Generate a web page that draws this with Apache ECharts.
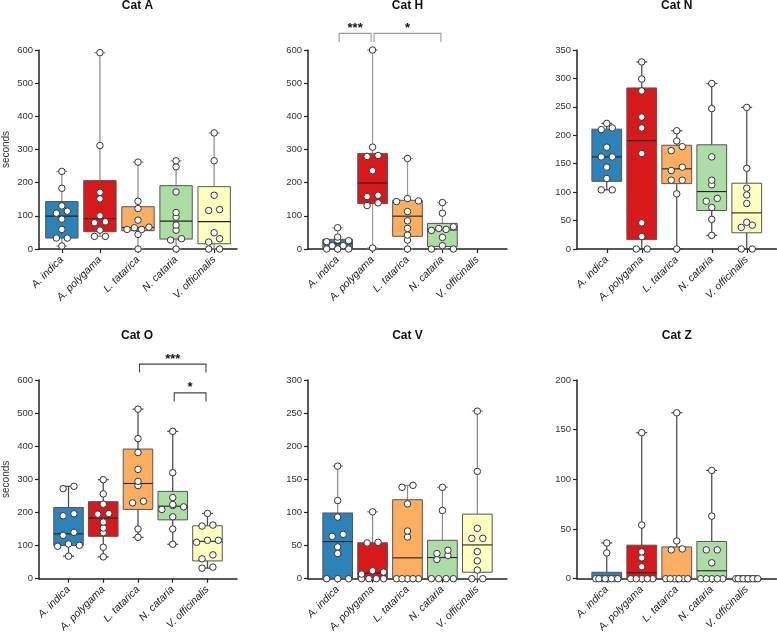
<!DOCTYPE html>
<html><head><meta charset="utf-8">
<script src="https://cdn.jsdelivr.net/npm/echarts@6/dist/echarts.min.js"></script>
<style>html,body{margin:0;padding:0;background:#fff}#c{width:777px;height:635px}</style>
</head><body><div id="c"></div>
<script>
// ---------------- data ----------------
const categories = ['A. indica', 'A. polygama', 'L. tatarica', 'N. cataria', 'V. officinalis'];
const panelTitles = ['Cat A', 'Cat H', 'Cat N', 'Cat O', 'Cat V', 'Cat Z'];
const yMaxes = [600, 600, 350, 600, 300, 200];
const yIntervals = [100, 100, 50, 100, 50, 50];

const catA = [
  [234, 183, 130, 114, 108, 90, 59, 33, 33, 9],
  [592, 312, 171, 151, 100, 82, 79, 57, 38, 38],
  [262, 144, 122, 87, 66, 64, 59, 59, 44, 0],
  [266, 248, 172, 110, 96, 72, 57, 31, 27, 0],
  [350, 266, 162, 119, 116, 49, 31, 21, 0, 0]
];
const catH = [
  [64, 36, 27, 25, 22, 10, 10, 0, 0, 0],
  [600, 307, 282, 279, 236, 162, 158, 139, 131, 3],
  [273, 152, 145, 143, 113, 85, 62, 42, 27, 0],
  [140, 108, 67, 62, 59, 56, 35, 10, 0, 0],
  []
];
const catN = [
  [221, 213, 210, 179, 162, 162, 144, 124, 104, 104],
  [329, 299, 278, 232, 213, 168, 46, 22, 0, 0],
  [208, 190, 180, 173, 144, 138, 121, 121, 97, 0],
  [291, 247, 162, 121, 113, 89, 84, 73, 52, 24],
  [249, 142, 107, 95, 80, 47, 42, 38, 0, 0]
];
const catO = [
  [279, 272, 196, 190, 140, 131, 105, 101, 98, 68],
  [299, 256, 225, 197, 195, 171, 153, 139, 95, 66],
  [512, 423, 381, 330, 294, 281, 234, 229, 150, 125],
  [445, 320, 245, 224, 221, 217, 209, 187, 150, 104],
  [197, 162, 159, 116, 116, 110, 72, 60, 35, 32]
];
const catV = [
  [170, 118, 93, 67, 64, 48, 38, 0, 0, 0],
  [101, 55, 54, 12, 10, 7, 0, 0, 0, 0],
  [141, 138, 113, 72, 63, 0, 0, 0, 0, 0],
  [138, 103, 43, 38, 35, 29, 0, 0, 0, 0],
  [253, 162, 76, 61, 61, 41, 27, 13, 0, 0]
];
const catZ = [
  [36, 26, 0, 0, 0, 0, 0, 0, 0, 0],
  [147, 54, 27, 21, 12, 0, 0, 0, 0, 0],
  [167, 38, 30, 29, 0, 0, 0, 0, 0, 0],
  [109, 63, 29, 29, 16, 0, 0, 0, 0, 0],
  [0, 0, 0, 0, 0, 0, 0, 0, 0, 0]
];
// significance brackets: [fromCategory, toCategory, level (seconds), label]
const sigH = [[0, 1, 650, '***'], [1, 3, 650, '*']];
const sigO = [[2, 4, 648, '***'], [3, 4, 561, '*']];

// ---------------- styles / layout ----------------
const FONT = 'Liberation Sans, Arial, Helvetica, sans-serif';
const fills = ['#2b83ba', '#d7191c', '#fdae61', '#abdda4', '#ffffbf'];
const panels = [
  { data: catA, grid: { left: 38, top: 50, width: 199, height: 199 }, xr: [-0.6, 4.6], yName: 'seconds', whisker: '#8a8a8a', sig: null },
  { data: catH, grid: { left: 308, top: 50, width: 199, height: 199 }, xr: [-0.85, 4.85], yName: '', whisker: '#999', sig: sigH, sigColor: '#999' },
  { data: catN, grid: { left: 577, top: 50, width: 199.5, height: 199 }, xr: [-0.85, 4.85], yName: '', whisker: '#444', sig: null },
  { data: catO, grid: { left: 37, top: 380, width: 200, height: 199 }, xr: [-0.85, 4.85], yName: 'seconds', whisker: '#444', sig: sigO, sigColor: '#444' },
  { data: catV, grid: { left: 308, top: 380, width: 199, height: 199 }, xr: [-0.85, 4.85], yName: '', whisker: '#8a8a8a', sig: null },
  { data: catZ, grid: { left: 577, top: 380, width: 199.5, height: 199 }, xr: [-0.85, 4.85], yName: '', whisker: '#444', sig: null }
];
const BOX_W = 0.85;
const CAP_PX = 11;

// GraphPad-style quartile (position p*(n+1))
function quant(s, p) {
  const n = s.length;
  let pos = p * (n + 1);
  if (pos < 1) pos = 1;
  if (pos > n) pos = n;
  const lo = Math.floor(pos), f = pos - lo;
  if (lo >= n) return s[n - 1];
  return s[lo - 1] + f * (s[lo] - s[lo - 1]);
}
function stats(vals) {
  const s = vals.slice().sort((a, b) => a - b);
  return [s[0], quant(s, 0.25), quant(s, 0.5), quant(s, 0.75), s[s.length - 1]];
}
// simple row-based beeswarm; offsets in category units
function swarm(vals, pxPerY, unitPx) {
  const s = vals.slice().sort((a, b) => a - b);
  const out = [];
  let i = 0;
  while (i < s.length) {
    const row = [s[i]];
    let j = i + 1;
    while (j < s.length && (s[j] - s[i]) * pxPerY < 4) { row.push(s[j]); j++; }
    const m = row.length;
    const step = m > 1 ? Math.min(11, 22 / (m - 1)) : 0;
    const pos = [];
    for (let k = 0; k < m; k++) pos.push((k - (m - 1) / 2) * step);
    const order = [];
    for (let k = 0; k < m; k += 2) order.push(k);
    for (let k = 1; k < m; k += 2) order.push(k);
    row.forEach((v, r) => out.push([pos[order[r]] / unitPx, v]));
    i = j;
  }
  return out;
}

const grids = [], xAxes = [], yAxes = [], series = [], graphics = [];
panels.forEach((p, k) => {
  grids.push(Object.assign({ containLabel: false }, p.grid));
  xAxes.push({
    type: 'value', gridIndex: k, min: p.xr[0], max: p.xr[1],
    axisLine: { show: true, onZero: false, lineStyle: { color: '#222', width: 1.5 } },
    axisTick: { show: true, customValues: [0, 1, 2, 3, 4], length: 4, lineStyle: { color: '#222', width: 1.2 } },
    axisLabel: {
      customValues: [0, 1, 2, 3, 4], rotate: 45, margin: 9,
      formatter: v => categories[Math.round(v)] || '',
      fontStyle: 'italic', fontSize: 10.5, color: '#222', fontFamily: FONT
    },
    splitLine: { show: false }
  });
  yAxes.push({
    type: 'value', gridIndex: k, min: 0, max: yMaxes[k], interval: yIntervals[k],
    axisLine: { show: true, onZero: false, lineStyle: { color: '#222', width: 1.5 } },
    axisTick: { show: true, length: 4, lineStyle: { color: '#222', width: 1.2 } },
    axisLabel: { fontSize: 9.5, color: '#333', margin: 6, fontFamily: FONT },
    splitLine: { show: false },
    name: p.yName, nameLocation: 'middle', nameGap: 28,
    nameTextStyle: { fontSize: 10, color: '#333', fontFamily: FONT }
  });
  const unitPx = p.grid.width / (p.xr[1] - p.xr[0]);
  const pxPerY = p.grid.height / yMaxes[k];

  const boxData = [];
  p.data.forEach((vals, i) => { if (vals.length) boxData.push([i].concat(stats(vals))); });
  const whisker = p.whisker;
  series.push({
    type: 'custom', xAxisIndex: k, yAxisIndex: k, z: 2, silent: true, clip: false,
    encode: { x: 0, y: [1, 2, 3, 4, 5] },
    data: boxData,
    renderItem: (params, api) => {
      const i = api.value(0);
      const pMin = api.coord([i, api.value(1)]);
      const pQ1 = api.coord([i, api.value(2)]);
      const pMd = api.coord([i, api.value(3)]);
      const pQ3 = api.coord([i, api.value(4)]);
      const pMax = api.coord([i, api.value(5)]);
      const hw = api.size([BOX_W, 0])[0] / 2;
      const cx = pMd[0];
      const ls = { stroke: whisker, lineWidth: 1.2 };
      return {
        type: 'group', children: [
          { type: 'line', shape: { x1: cx, y1: pMin[1], x2: cx, y2: pMax[1] }, style: ls },
          { type: 'line', shape: { x1: cx - CAP_PX / 2, y1: pMax[1], x2: cx + CAP_PX / 2, y2: pMax[1] }, style: ls },
          { type: 'line', shape: { x1: cx - CAP_PX / 2, y1: pMin[1], x2: cx + CAP_PX / 2, y2: pMin[1] }, style: ls },
          { type: 'rect', shape: { x: cx - hw, y: pQ3[1], width: 2 * hw, height: pQ1[1] - pQ3[1] },
            style: { fill: fills[i], stroke: '#555', lineWidth: 1 } },
          { type: 'line', shape: { x1: cx - hw, y1: pMd[1], x2: cx + hw, y2: pMd[1] }, style: { stroke: '#222', lineWidth: 1.1 } }
        ]
      };
    }
  });

  const pts = [];
  p.data.forEach((vals, i) => {
    swarm(vals, pxPerY, unitPx).forEach(([off, v]) => pts.push([i + off, v]));
  });
  series.push({
    type: 'scatter', xAxisIndex: k, yAxisIndex: k, z: 5, silent: true, clip: false,
    data: pts, symbol: 'circle', symbolSize: 6.5,
    itemStyle: { color: '#fff', borderColor: '#333', borderWidth: 1, opacity: 1 }
  });

  if (p.sig) {
    const list = p.sig, col = p.sigColor;
    series.push({
      type: 'custom', xAxisIndex: k, yAxisIndex: k, z: 6, silent: true, clip: false,
      encode: { x: 0, y: 1 },
      data: list.map(b => [b[0], b[2]]),
      renderItem: (params, api) => {
        const b = list[params.dataIndex];
        const a = api.coord([b[0], b[2]]), c = api.coord([b[1], b[2]]);
        const x1 = a[0] + 1.5, x2 = c[0] - 1.5, y = a[1];
        return {
          type: 'group', children: [
            { type: 'polyline', shape: { points: [[x1, y + 8.5], [x1, y], [x2, y], [x2, y + 8.5]] },
              style: { stroke: col, fill: null, lineWidth: 1.1 } },
            { type: 'text', x: (x1 + x2) / 2, y: y - 5,
              style: { text: b[3], font: 'bold 13px ' + FONT, fill: '#111',
                       textAlign: 'center', align: 'center', textVerticalAlign: 'middle', verticalAlign: 'middle' } }
          ]
        };
      }
    });
  }

  graphics.push({
    type: 'text', x: p.grid.left + p.grid.width / 2, y: p.grid.top - 44,
    style: { text: panelTitles[k], font: 'bold 12px ' + FONT, fill: '#111',
             textAlign: 'center', align: 'center', textVerticalAlign: 'middle', verticalAlign: 'middle' }
  });
});

const chart = echarts.init(document.getElementById('c'), null, { renderer: 'canvas' });
chart.setOption({
  animation: false,
  backgroundColor: '#fff',
  grid: grids, xAxis: xAxes, yAxis: yAxes, series: series, graphic: graphics
});
</script>
</body></html>
